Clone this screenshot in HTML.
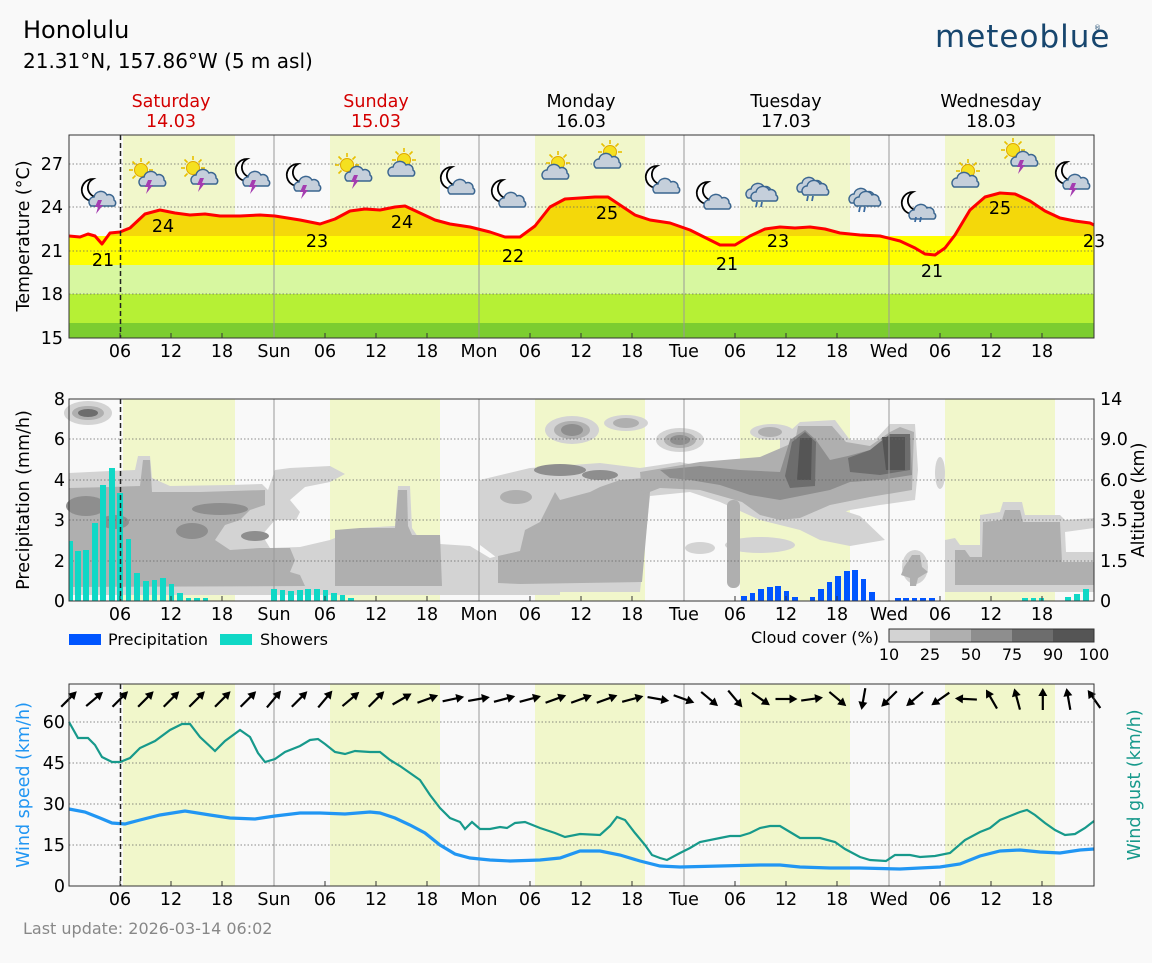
<!DOCTYPE html>
<html><head><meta charset="utf-8"><style>
html,body{margin:0;padding:0;background:#f9f9f9;}
svg{display:block;font-family:"DejaVu Sans","Liberation Sans",sans-serif;}
</style></head><body>
<svg width="1152" height="963" viewBox="0 0 1152 963" xmlns="http://www.w3.org/2000/svg">
<defs>
<g id="moon"><path d="M13,1 a11,11 0 1 0 9,17 a9,9 0 0 1 -9,-17z" fill="#fff" stroke="#000" stroke-width="1.8"/></g>
<g id="cloud"><path d="M5,22 a5,5 0 0 1 3,-9 a7,7 0 0 1 13,-2 a5,5 0 0 1 7,5 a3.5,3.5 0 0 1 0,6 z" fill="#c5cfdb" stroke="#3b6690" stroke-width="1.5"/></g>
<g id="sun"><g stroke="#e8c000" stroke-width="1.6"><line x1="13" y1="0" x2="13" y2="4"/><line x1="13" y1="20" x2="13" y2="24"/><line x1="1" y1="12" x2="5" y2="12"/><line x1="21" y1="12" x2="25" y2="12"/><line x1="4.5" y1="3.5" x2="7.5" y2="6.5"/><line x1="18.5" y1="17.5" x2="21.5" y2="20.5"/><line x1="21.5" y1="3.5" x2="18.5" y2="6.5"/><line x1="4.5" y1="20.5" x2="7.5" y2="17.5"/></g><circle cx="13" cy="12" r="6.5" fill="#f5e020" stroke="#e0a800" stroke-width="1"/></g>
<g id="bolt"><polygon points="4,0 8,0 6,5 9,5 2,14 4,7 1,7" fill="#a43cb0"/></g>
<g id="rain"><g stroke="#3a6aa0" stroke-width="1.8"><line x1="2" y1="0" x2="1" y2="5"/><line x1="7" y1="0" x2="6" y2="5"/></g></g>
<g id="mcb"><use href="#moon" x="0" y="0"/><use href="#cloud" x="6" y="6"/><use href="#bolt" x="14" y="22"/></g>
<g id="scb"><use href="#sun" x="0" y="0"/><use href="#cloud" x="8" y="6"/><use href="#bolt" x="16" y="22"/></g>
<g id="mc"><use href="#moon" x="0" y="0"/><use href="#cloud" x="6" y="6"/></g>
<g id="sc"><use href="#sun" x="6" y="0"/><use href="#cloud" x="0" y="6"/></g>
<g id="cr"><use href="#cloud" x="0" y="0"/><use href="#cloud" x="5" y="3"/><use href="#rain" x="12" y="26"/></g>
<g id="mcr"><use href="#moon" x="0" y="0"/><use href="#cloud" x="6" y="6"/><use href="#rain" x="14" y="26"/></g>
<g id="ar"><line x1="-11" y1="0" x2="5" y2="0" stroke="#000" stroke-width="2.2"/><polygon points="11,0 3,-4.5 3,4.5" fill="#000"/></g>
</defs>

<!-- Header -->
<text x="23" y="38" font-size="24" fill="#000">Honolulu</text>
<text x="23" y="68" font-size="20" fill="#000">21.31°N, 157.86°W (5 m asl)</text>
<text x="935" y="47" font-size="31" fill="#17466e" letter-spacing="1" font-family="DejaVu Sans, sans-serif">meteoblue</text>
<text x="1094" y="30" font-size="7" fill="#17466e">®</text>

<g font-size="17.5" text-anchor="middle">
<text x="171" y="107" fill="#d40000">Saturday</text><text x="171" y="127" fill="#d40000">14.03</text>
<text x="376" y="107" fill="#d40000">Sunday</text><text x="376" y="127" fill="#d40000">15.03</text>
<text x="581" y="107">Monday</text><text x="581" y="127">16.03</text>
<text x="786" y="107">Tuesday</text><text x="786" y="127">17.03</text>
<text x="991" y="107">Wednesday</text><text x="991" y="127">18.03</text>
</g>

<!-- Panel 1 -->
<rect x="69" y="135" width="1025" height="203" fill="#f9f9f9"/>
<g fill="#f1f7cb">
<rect x="123" y="135" width="112" height="203"/><rect x="330" y="135" width="110" height="203"/><rect x="535" y="135" width="110" height="203"/><rect x="740" y="135" width="110" height="203"/><rect x="945" y="135" width="110" height="203"/>
</g>
<polygon fill="#f4d80a" points="69,236 80,237 88,234 95,236 102,244 110,233 120,232 130,228 145,214 160,210 175,213 190,215 205,214 220,216 240,216 260,215 275,216 300,220 320,224 335,219 350,211 365,209 380,210 395,207 405,206 420,213 435,220 450,224 470,227 490,232 505,237 520,237 535,226 550,207 565,199 580,198 595,197 608,197 620,205 635,215 650,220 670,223 690,230 710,240 720,245 735,245 750,236 765,229 780,227 795,228 810,227 825,229 840,233 860,235 880,236 900,241 915,248 925,254 935,255 945,248 955,235 970,210 985,197 1000,193 1015,194 1030,201 1045,211 1060,218 1075,221 1090,223 1094,225 1094,236 69,236"/>
<rect x="69" y="236" width="1025" height="29" fill="#ffff00"/>
<rect x="69" y="265" width="1025" height="29" fill="#d7f7a0"/>
<rect x="69" y="294" width="1025" height="29" fill="#b6f035"/>
<rect x="69" y="323" width="1025" height="15" fill="#7ccd30"/>
<g stroke="#666" stroke-width="0.8" stroke-dasharray="1.5,2"><line x1="69" y1="164" x2="1094" y2="164"/><line x1="69" y1="207" x2="1094" y2="207"/><line x1="69" y1="251" x2="1094" y2="251"/><line x1="69" y1="294" x2="1094" y2="294"/></g>
<g stroke="#999" stroke-width="1"><line x1="274" y1="135" x2="274" y2="338"/><line x1="479" y1="135" x2="479" y2="338"/><line x1="684" y1="135" x2="684" y2="338"/><line x1="889" y1="135" x2="889" y2="338"/></g>
<polyline fill="none" stroke="#ff0000" stroke-width="3" stroke-linejoin="round" points="69,236 80,237 88,234 95,236 102,244 110,233 120,232 130,228 145,214 160,210 175,213 190,215 205,214 220,216 240,216 260,215 275,216 300,220 320,224 335,219 350,211 365,209 380,210 395,207 405,206 420,213 435,220 450,224 470,227 490,232 505,237 520,237 535,226 550,207 565,199 580,198 595,197 608,197 620,205 635,215 650,220 670,223 690,230 710,240 720,245 735,245 750,236 765,229 780,227 795,228 810,227 825,229 840,233 860,235 880,236 900,241 915,248 925,254 935,255 945,248 955,235 970,210 985,197 1000,193 1015,194 1030,201 1045,211 1060,218 1075,221 1090,223 1094,225"/>
<line x1="120.5" y1="135" x2="120.5" y2="338" stroke="#222" stroke-width="1.5" stroke-dasharray="5,3"/>
<g font-size="17.5" text-anchor="middle">
<text x="103" y="266">21</text><text x="163" y="232">24</text><text x="317" y="247">23</text><text x="402" y="228">24</text><text x="513" y="262">22</text><text x="607" y="219">25</text><text x="727" y="270">21</text><text x="778" y="247">23</text><text x="932" y="277">21</text><text x="1000" y="214">25</text><text x="1094" y="247">23</text>
</g>
<!-- icons -->
<use href="#mcb" x="80" y="178"/><use href="#scb" x="128" y="158"/><use href="#scb" x="180" y="156"/><use href="#mcb" x="234" y="158"/><use href="#mcb" x="285" y="163"/><use href="#scb" x="334" y="153"/><use href="#sc" x="385" y="148"/><use href="#mc" x="439" y="166"/><use href="#mc" x="490" y="179"/><use href="#sc" x="539" y="151"/><use href="#sc" x="591" y="140"/><use href="#mc" x="644" y="165"/><use href="#mc" x="695" y="181"/><use href="#cr" x="743" y="176"/><use href="#cr" x="794" y="170"/><use href="#cr" x="846" y="181"/><use href="#mcr" x="900" y="191"/><use href="#sc" x="949" y="159"/><use href="#scb" x="1000" y="138"/><use href="#mcb" x="1054" y="161"/>
<rect x="69" y="135" width="1025" height="203" fill="none" stroke="#333" stroke-width="1"/>
<g stroke="#333" stroke-width="1">
<line x1="120" y1="338" x2="120" y2="333"/><line x1="171" y1="338" x2="171" y2="333"/><line x1="222" y1="338" x2="222" y2="333"/><line x1="325" y1="338" x2="325" y2="333"/><line x1="376" y1="338" x2="376" y2="333"/><line x1="427" y1="338" x2="427" y2="333"/><line x1="530" y1="338" x2="530" y2="333"/><line x1="581" y1="338" x2="581" y2="333"/><line x1="632" y1="338" x2="632" y2="333"/><line x1="735" y1="338" x2="735" y2="333"/><line x1="786" y1="338" x2="786" y2="333"/><line x1="837" y1="338" x2="837" y2="333"/><line x1="940" y1="338" x2="940" y2="333"/><line x1="991" y1="338" x2="991" y2="333"/><line x1="1042" y1="338" x2="1042" y2="333"/>
</g>
<g font-size="17.5" text-anchor="end"><text x="63" y="170">27</text><text x="63" y="213">24</text><text x="63" y="257">21</text><text x="63" y="300">18</text><text x="63" y="344">15</text></g>
<text transform="translate(29,236) rotate(-90)" font-size="17.5" text-anchor="middle">Temperature (°C)</text>
<g font-size="17.5" text-anchor="middle" id="xl">
<text x="120" y="357">06</text><text x="171" y="357">12</text><text x="222" y="357">18</text><text x="274" y="357">Sun</text><text x="325" y="357">06</text><text x="376" y="357">12</text><text x="427" y="357">18</text><text x="479" y="357">Mon</text><text x="530" y="357">06</text><text x="581" y="357">12</text><text x="632" y="357">18</text><text x="684" y="357">Tue</text><text x="735" y="357">06</text><text x="786" y="357">12</text><text x="837" y="357">18</text><text x="889" y="357">Wed</text><text x="940" y="357">06</text><text x="991" y="357">12</text><text x="1042" y="357">18</text>
</g>

<!-- Panel 2 -->
<rect x="69" y="399" width="1025" height="202" fill="#f9f9f9"/>
<g fill="#f1f7cb">
<rect x="123" y="399" width="112" height="202"/><rect x="330" y="399" width="110" height="202"/><rect x="535" y="399" width="110" height="202"/><rect x="740" y="399" width="110" height="202"/><rect x="945" y="399" width="110" height="202"/>
</g>
<g fill="#d3d3d3">
<ellipse cx="88" cy="413" rx="24" ry="12"/>
<polygon points="69,473 110,471 135,470 138,456 150,456 152,478 170,486 230,485 262,484 268,490 275,470 290,468 330,466 345,474 330,482 305,487 290,500 300,512 296,520 275,520 262,535 270,548 300,547 330,540 360,528 395,526 398,486 410,486 412,528 420,540 440,544 470,546 490,558 520,550 560,548 560,595 69,595"/>
<polygon points="480,480 530,468 600,463 640,468 680,462 700,466 720,478 740,488 780,498 820,503 860,516 885,540 850,546 820,540 800,530 760,520 720,502 690,492 650,496 640,592 520,592 500,560 480,545"/>
<ellipse cx="572" cy="430" rx="27" ry="14"/><ellipse cx="626" cy="423" rx="22" ry="8"/><ellipse cx="680" cy="440" rx="24" ry="12"/><ellipse cx="772" cy="432" rx="22" ry="8"/>
<polygon points="780,440 800,422 835,420 850,440 875,440 890,424 915,424 918,470 915,500 880,505 850,510 820,520 800,525 780,505"/>
<polygon points="945,540 955,538 960,545 980,545 980,515 1000,512 1003,502 1022,502 1025,515 1060,515 1065,520 1094,518 1094,528 1065,532 1066,552 1094,552 1094,592 945,592"/>
<ellipse cx="760" cy="545" rx="35" ry="8"/><ellipse cx="700" cy="548" rx="15" ry="6"/>
<ellipse cx="940" cy="473" rx="5" ry="16"/><ellipse cx="915" cy="567" rx="13" ry="17"/>
</g>
<g fill="#afafaf">
<ellipse cx="88" cy="413" rx="16" ry="7"/>
<polygon points="69,488 110,487 140,486 143,460 150,460 152,492 200,492 265,490 265,505 250,510 240,520 225,525 215,540 230,550 260,548 290,548 295,560 290,572 300,575 305,586 69,587"/>
<polygon points="335,530 360,528 395,528 398,490 407,490 408,526 412,535 440,535 442,586 335,586"/>
<polygon points="498,556 520,551 525,530 540,522 555,492 560,500 590,492 600,487 620,480 645,478 650,492 642,582 520,584 498,583"/>
<polygon points="640,472 700,462 760,457 795,442 798,426 832,426 846,442 870,446 890,432 900,427 914,432 912,490 870,497 830,505 800,518 780,520 760,515 742,502 700,490 660,488 642,495"/>
<rect x="727" y="500" width="13" height="88" rx="6"/>
<ellipse cx="572" cy="430" rx="18" ry="9"/><ellipse cx="680" cy="440" rx="16" ry="8"/><ellipse cx="626" cy="423" rx="13" ry="5"/><ellipse cx="770" cy="432" rx="12" ry="5"/>
<polygon points="955,550 965,550 970,557 982,557 983,522 1002,520 1005,510 1020,510 1023,522 1060,522 1062,562 1094,562 1094,585 955,585"/>
<polygon points="904,567 912,555 920,555 922,567 928,572 918,578 916,586 910,586 910,578 901,575"/>
<ellipse cx="516" cy="497" rx="16" ry="7"/>
</g>
<g fill="#8e8e8e">
<ellipse cx="86" cy="506" rx="20" ry="10"/><ellipse cx="115" cy="522" rx="14" ry="7"/><ellipse cx="192" cy="531" rx="16" ry="8"/><ellipse cx="220" cy="509" rx="28" ry="6"/><ellipse cx="255" cy="536" rx="14" ry="5"/>
<ellipse cx="572" cy="430" rx="11" ry="6"/><ellipse cx="680" cy="440" rx="10" ry="5"/>
<polygon points="660,470 700,466 740,470 780,472 790,440 805,430 816,440 830,460 848,456 870,450 890,434 910,434 912,475 880,480 850,482 830,490 805,495 780,500 750,495 720,485 690,480 670,478"/>
<ellipse cx="560" cy="470" rx="26" ry="6"/><ellipse cx="600" cy="475" rx="18" ry="5"/>
</g>
<g fill="#6d6d6d">
<polygon points="792,442 805,432 816,442 815,486 790,488 785,476"/>
<polygon points="848,458 870,450 890,434 910,434 910,470 880,475 850,472"/>
<ellipse cx="88" cy="413" rx="10" ry="4"/>
</g>
<g fill="#555">
<polygon points="800,438 812,438 811,480 797,480"/>
<polygon points="882,437 905,437 905,470 886,470"/>
</g>
<g stroke="#666" stroke-width="0.8" stroke-dasharray="1.5,2"><line x1="69" y1="439" x2="1094" y2="439"/><line x1="69" y1="480" x2="1094" y2="480"/><line x1="69" y1="520" x2="1094" y2="520"/><line x1="69" y1="561" x2="1094" y2="561"/></g>
<g stroke="#999" stroke-width="1"><line x1="274" y1="399" x2="274" y2="601"/><line x1="479" y1="399" x2="479" y2="601"/><line x1="684" y1="399" x2="684" y2="601"/><line x1="889" y1="399" x2="889" y2="601"/></g>
<g fill="#10d8c6">
<rect x="69" y="541" width="4" height="60"/><rect x="75" y="551" width="6" height="50"/><rect x="83" y="550" width="6" height="51"/><rect x="92" y="523" width="6" height="78"/><rect x="100" y="485" width="6" height="116"/><rect x="109" y="468" width="6" height="133"/><rect x="117" y="493" width="6" height="108"/><rect x="126" y="539" width="5" height="62"/><rect x="134" y="573" width="6" height="28"/><rect x="143" y="581" width="6" height="20"/><rect x="152" y="580" width="5" height="21"/><rect x="160" y="578" width="6" height="23"/><rect x="169" y="584" width="5" height="17"/><rect x="177" y="593" width="6" height="8"/><rect x="186" y="598" width="5" height="3"/><rect x="194" y="598" width="6" height="3"/><rect x="203" y="598" width="5" height="3"/>
<rect x="271" y="589" width="6" height="12"/><rect x="280" y="590" width="5" height="11"/><rect x="288" y="591" width="6" height="10"/><rect x="297" y="590" width="6" height="11"/><rect x="305" y="589" width="6" height="12"/><rect x="314" y="589" width="6" height="12"/><rect x="323" y="590" width="5" height="11"/><rect x="331" y="593" width="6" height="8"/><rect x="340" y="595" width="5" height="6"/><rect x="348" y="598" width="6" height="3"/>
<rect x="1022" y="598" width="6" height="3"/><rect x="1031" y="598" width="5" height="3"/><rect x="1039" y="598" width="5" height="3"/><rect x="1065" y="597" width="6" height="4"/><rect x="1074" y="594" width="6" height="7"/><rect x="1083" y="589" width="6" height="12"/>
</g>
<g fill="#0055ff">
<rect x="741" y="596" width="6" height="5"/><rect x="750" y="593" width="5" height="8"/><rect x="758" y="589" width="6" height="12"/><rect x="767" y="587" width="6" height="14"/><rect x="775" y="586" width="6" height="15"/><rect x="784" y="591" width="5" height="10"/><rect x="792" y="597" width="6" height="4"/>
<rect x="810" y="597" width="5" height="4"/><rect x="818" y="589" width="6" height="12"/><rect x="827" y="582" width="5" height="19"/><rect x="835" y="576" width="6" height="25"/><rect x="844" y="571" width="6" height="30"/><rect x="852" y="570" width="6" height="31"/><rect x="861" y="579" width="5" height="22"/><rect x="869" y="592" width="6" height="9"/>
<rect x="895" y="598" width="6" height="3"/><rect x="903" y="598" width="6" height="3"/><rect x="912" y="598" width="5" height="3"/><rect x="920" y="598" width="6" height="3"/><rect x="929" y="598" width="6" height="3"/>
</g>
<line x1="120.5" y1="399" x2="120.5" y2="601" stroke="#222" stroke-width="1.5" stroke-dasharray="5,3"/>
<rect x="69" y="399" width="1025" height="202" fill="none" stroke="#333" stroke-width="1"/>
<g stroke="#333" stroke-width="1">
<line x1="120" y1="601" x2="120" y2="596"/><line x1="171" y1="601" x2="171" y2="596"/><line x1="222" y1="601" x2="222" y2="596"/><line x1="325" y1="601" x2="325" y2="596"/><line x1="376" y1="601" x2="376" y2="596"/><line x1="427" y1="601" x2="427" y2="596"/><line x1="530" y1="601" x2="530" y2="596"/><line x1="581" y1="601" x2="581" y2="596"/><line x1="632" y1="601" x2="632" y2="596"/><line x1="735" y1="601" x2="735" y2="596"/><line x1="786" y1="601" x2="786" y2="596"/><line x1="837" y1="601" x2="837" y2="596"/><line x1="940" y1="601" x2="940" y2="596"/><line x1="991" y1="601" x2="991" y2="596"/><line x1="1042" y1="601" x2="1042" y2="596"/>
</g>
<g font-size="17.5" text-anchor="end"><text x="65" y="405">8</text><text x="65" y="445">6</text><text x="65" y="486">4</text><text x="65" y="526">3</text><text x="65" y="567">2</text><text x="65" y="607">0</text></g>
<g font-size="17.5" text-anchor="start"><text x="1100" y="405">14</text><text x="1100" y="445">9.0</text><text x="1100" y="486">6.0</text><text x="1100" y="526">3.5</text><text x="1100" y="567">1.5</text><text x="1100" y="607">0</text></g>
<text transform="translate(29,500) rotate(-90)" font-size="17.5" text-anchor="middle">Precipitation (mm/h)</text>
<text transform="translate(1144,500) rotate(-90)" font-size="17.5" text-anchor="middle">Altitude (km)</text>
<use href="#xl" transform="translate(0,263)"/>
<rect x="69" y="634" width="32" height="11" fill="#0055ff"/><text x="108" y="645" font-size="16">Precipitation</text>
<rect x="220" y="634" width="32" height="11" fill="#10d8c6"/><text x="260" y="645" font-size="16">Showers</text>
<text x="879" y="643" font-size="16" text-anchor="end">Cloud cover (%)</text>
<rect x="889" y="629" width="41" height="13" fill="#d3d3d3"/><rect x="930" y="629" width="41" height="13" fill="#afafaf"/><rect x="971" y="629" width="41" height="13" fill="#8e8e8e"/><rect x="1012" y="629" width="41" height="13" fill="#6d6d6d"/><rect x="1053" y="629" width="41" height="13" fill="#555"/>
<rect x="889" y="629" width="205" height="13" fill="none" stroke="#333" stroke-width="1"/>
<g font-size="16" text-anchor="middle"><text x="889" y="660">10</text><text x="930" y="660">25</text><text x="971" y="660">50</text><text x="1012" y="660">75</text><text x="1053" y="660">90</text><text x="1094" y="660">100</text></g>

<!-- Panel 3 -->
<rect x="69" y="684" width="1025" height="202" fill="#f9f9f9"/>
<g fill="#f1f7cb">
<rect x="123" y="684" width="112" height="202"/><rect x="330" y="684" width="110" height="202"/><rect x="535" y="684" width="110" height="202"/><rect x="740" y="684" width="110" height="202"/><rect x="945" y="684" width="110" height="202"/>
</g>
<g stroke="#666" stroke-width="0.8" stroke-dasharray="1.5,2"><line x1="69" y1="722" x2="1094" y2="722"/><line x1="69" y1="763" x2="1094" y2="763"/><line x1="69" y1="804" x2="1094" y2="804"/><line x1="69" y1="845" x2="1094" y2="845"/></g>
<g stroke="#999" stroke-width="1"><line x1="274" y1="684" x2="274" y2="886"/><line x1="479" y1="684" x2="479" y2="886"/><line x1="684" y1="684" x2="684" y2="886"/><line x1="889" y1="684" x2="889" y2="886"/></g>
<polyline fill="none" stroke="#17998b" stroke-width="2.2" points="69,722 78,738 88,738 95,745 102,757 112,762 120,762 130,758 140,748 155,741 170,730 182,724 190,724 200,737 215,751 225,741 240,730 250,737 258,753 265,762 275,759 285,752 300,746 310,740 318,739 325,744 335,752 345,754 355,751 370,752 380,752 390,760 400,766 410,773 420,780 430,795 440,808 450,818 460,822 465,829 472,822 480,829 490,829 500,827 507,828 515,823 525,822 540,828 555,833 565,837 580,834 600,835 610,826 617,817 625,820 635,833 645,845 652,855 660,858 667,860 680,853 690,848 700,842 720,838 730,836 740,836 750,833 760,828 770,826 780,826 790,832 800,838 820,838 835,842 845,849 860,857 870,860 886,861 895,855 910,855 920,857 935,856 950,853 965,840 980,832 990,828 1000,820 1010,816 1020,812 1027,810 1035,815 1045,823 1055,830 1065,835 1075,834 1085,828 1094,821"/>
<polyline fill="none" stroke="#2196f3" stroke-width="3.2" points="69,809 85,812 100,818 112,823 125,824 140,820 160,815 185,811 210,815 230,818 255,819 275,816 300,813 320,813 345,814 370,812 380,813 395,818 410,825 425,833 440,845 455,854 470,858 490,860 510,861 540,860 560,858 580,851 600,851 620,855 640,861 660,866 680,867 720,866 760,865 780,865 800,867 830,868 860,868 900,869 940,867 960,864 980,856 1000,851 1020,850 1040,852 1060,853 1080,850 1094,849"/>
<line x1="120.5" y1="684" x2="120.5" y2="886" stroke="#222" stroke-width="1.5" stroke-dasharray="5,3"/>
<g>
<use href="#ar" transform="translate(69,699) rotate(-45)"/><use href="#ar" transform="translate(94.6,699) rotate(-40)"/><use href="#ar" transform="translate(120.3,699) rotate(-45)"/><use href="#ar" transform="translate(145.9,699) rotate(-45)"/><use href="#ar" transform="translate(171.5,699) rotate(-45)"/><use href="#ar" transform="translate(197.1,699) rotate(-45)"/><use href="#ar" transform="translate(222.8,699) rotate(-45)"/><use href="#ar" transform="translate(248.4,699) rotate(-45)"/><use href="#ar" transform="translate(274,699) rotate(-50)"/><use href="#ar" transform="translate(299.6,699) rotate(-45)"/><use href="#ar" transform="translate(325.3,699) rotate(-50)"/><use href="#ar" transform="translate(350.9,699) rotate(-40)"/><use href="#ar" transform="translate(376.5,699) rotate(-45)"/><use href="#ar" transform="translate(402.1,699) rotate(-30)"/><use href="#ar" transform="translate(427.8,699) rotate(-20)"/><use href="#ar" transform="translate(453.4,699) rotate(-12)"/><use href="#ar" transform="translate(479,699) rotate(-10)"/><use href="#ar" transform="translate(504.6,699) rotate(-15)"/><use href="#ar" transform="translate(530.3,699) rotate(-15)"/><use href="#ar" transform="translate(555.9,699) rotate(-20)"/><use href="#ar" transform="translate(581.5,699) rotate(-20)"/><use href="#ar" transform="translate(607.1,699) rotate(-20)"/><use href="#ar" transform="translate(632.8,699) rotate(-15)"/><use href="#ar" transform="translate(658.4,699) rotate(10)"/><use href="#ar" transform="translate(684,699) rotate(20)"/><use href="#ar" transform="translate(709.6,699) rotate(40)"/><use href="#ar" transform="translate(735.3,699) rotate(50)"/><use href="#ar" transform="translate(760.9,699) rotate(35)"/><use href="#ar" transform="translate(786.5,699) rotate(0)"/><use href="#ar" transform="translate(812.1,699) rotate(-8)"/><use href="#ar" transform="translate(837.8,699) rotate(40)"/><use href="#ar" transform="translate(863.4,699) rotate(100)"/><use href="#ar" transform="translate(889,699) rotate(135)"/><use href="#ar" transform="translate(914.6,699) rotate(140)"/><use href="#ar" transform="translate(940.3,699) rotate(145)"/><use href="#ar" transform="translate(965.9,699) rotate(183)"/><use href="#ar" transform="translate(991.5,699) rotate(240)"/><use href="#ar" transform="translate(1017.1,699) rotate(255)"/><use href="#ar" transform="translate(1042.8,699) rotate(270)"/><use href="#ar" transform="translate(1068.4,699) rotate(260)"/><use href="#ar" transform="translate(1094,699) rotate(235)"/>
</g>
<rect x="69" y="684" width="1025" height="202" fill="none" stroke="#333" stroke-width="1"/>
<g stroke="#333" stroke-width="1">
<line x1="120" y1="886" x2="120" y2="881"/><line x1="171" y1="886" x2="171" y2="881"/><line x1="222" y1="886" x2="222" y2="881"/><line x1="325" y1="886" x2="325" y2="881"/><line x1="376" y1="886" x2="376" y2="881"/><line x1="427" y1="886" x2="427" y2="881"/><line x1="530" y1="886" x2="530" y2="881"/><line x1="581" y1="886" x2="581" y2="881"/><line x1="632" y1="886" x2="632" y2="881"/><line x1="735" y1="886" x2="735" y2="881"/><line x1="786" y1="886" x2="786" y2="881"/><line x1="837" y1="886" x2="837" y2="881"/><line x1="940" y1="886" x2="940" y2="881"/><line x1="991" y1="886" x2="991" y2="881"/><line x1="1042" y1="886" x2="1042" y2="881"/>
</g>
<g font-size="17.5" text-anchor="end"><text x="65" y="728">60</text><text x="65" y="769">45</text><text x="65" y="810">30</text><text x="65" y="851">15</text><text x="65" y="892">0</text></g>
<text transform="translate(29,785) rotate(-90)" font-size="17.5" text-anchor="middle" fill="#2196f3">Wind speed (km/h)</text>
<text transform="translate(1140,785) rotate(-90)" font-size="17.5" text-anchor="middle" fill="#17998b">Wind gust (km/h)</text>
<use href="#xl" transform="translate(0,548)"/>

<text x="23" y="934" font-size="16" fill="#888">Last update: 2026-03-14 06:02</text>
</svg>
</body></html>
